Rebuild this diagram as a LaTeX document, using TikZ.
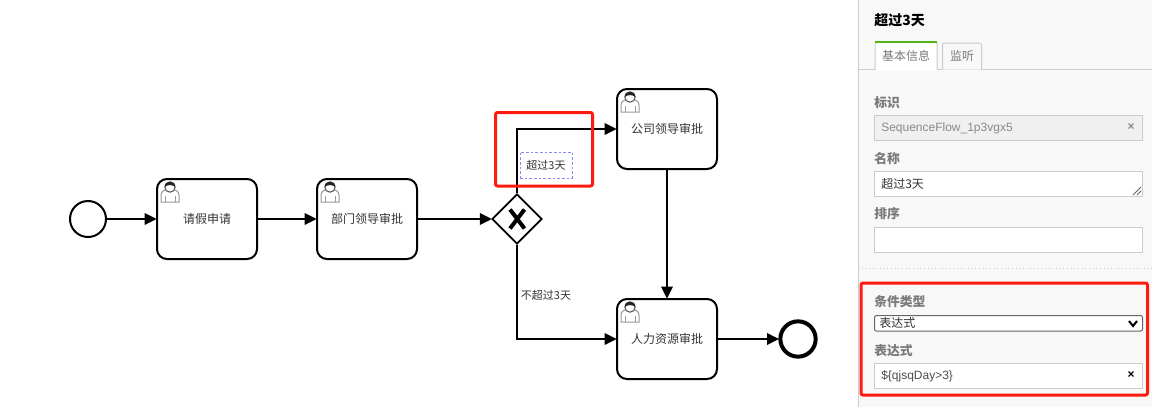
\documentclass[tikz,border=0pt]{standalone}
\usepackage{fontspec}
\setmainfont{Noto Sans CJK SC}
\newfontfamily\latinf{Liberation Sans}
\usetikzlibrary{arrows.meta,shapes.geometric}
\definecolor{panelbg}{HTML}{F8F8F8}
\definecolor{fieldline}{HTML}{CCCCCC}
\definecolor{graytxt}{HTML}{8A8A8A}
\definecolor{labeltxt}{HTML}{7A7A7A}
\definecolor{redmark}{HTML}{FF1A10}
\definecolor{tabgreen}{HTML}{52B415}
\definecolor{lblblue}{HTML}{8888FF}
\tikzset{
  px/.style={line width=#1*0.75pt},
  task/.style={draw=black,px=2,fill=white,rounded corners=7.5pt,minimum width=75pt,minimum height=60pt,inner sep=0pt,font=\fontsize{9}{11}\selectfont,text=black!80},
  flow/.style={draw=black,px=2,shorten >=-0.5pt,-{Triangle[length=9pt,width=8.6pt]}},
  flabel/.style={anchor=west,inner sep=0pt,font=\fontsize{9.6}{11}\selectfont\bfseries,text=labeltxt},
  ftext/.style={anchor=west,inner sep=0pt,font=\fontsize{9}{11}\selectfont},
  redbox/.style={draw=redmark,px=3,rounded corners=1.5pt},
  clearx/.style={inner sep=0pt,font=\latinf\fontsize{9}{11}\selectfont\bfseries},
  usericon/.pic={
    \draw[draw=black!40,px=1,fill=white] (-9,11) -- (-9,4) .. controls (-9,0) and (-5,-1) .. (-3,-2) -- (3,-2) .. controls (5,-1) and (9,0) .. (9,4) -- (9,11) -- cycle;
    \draw[draw=black!40,px=1] (-5,5) -- (-5,11) (5,5) -- (5,11);
    \draw[draw=black!70,px=1,fill=white] (0,-4) circle[radius=5.2];
    \fill[black!85] (-5.2,-4) .. controls (-5.5,-11) and (5.5,-11) .. (5.2,-4) .. controls (3,-6.5) and (-3,-6.5) .. (-5.2,-4) -- cycle;
  }
}
\begin{document}
\begin{tikzpicture}[x=0.75pt,y=-0.75pt]
\useasboundingbox (0,0) rectangle (1152,407);
\fill[white] (0,0) rectangle (1152,407);
% panel
\fill[panelbg] (858,0) rectangle (1152,407);
\draw[fieldline,px=1] (858.5,0) -- (858.5,407);
\node[anchor=west,inner sep=0pt,font=\fontsize{10.5}{12}\selectfont\bfseries] (title) at (874,20) {超过3天};
\draw[fieldline,px=1] (858,69.5) -- (1152,69.5);
\draw[fieldline,px=1,fill=white,rounded corners=1.5pt] (875,70) -- (875,42) -- (937,42) -- (937,70);
\fill[white] (875.5,69) rectangle (936.5,70.5);
\draw[tabgreen,px=2] (875,42) -- (937,42);
\draw[fieldline,px=1,fill=panelbg,rounded corners=1.5pt] (942.5,69.5) -- (942.5,43) -- (981.5,43) -- (981.5,69.5);
\node[font=\fontsize{9}{11}\selectfont,text=labeltxt,inner sep=0pt] (tab1) at (906,56) {基本信息};
\node[font=\fontsize{9}{11}\selectfont,text=labeltxt,inner sep=0pt] (tab2) at (962,56) {监听};
\node[flabel] (l1) at (874,103) {标识};
\draw[fieldline,px=1,fill=black!6] (874.5,115.5) rectangle (1142.5,140);
\node[ftext,text=graytxt,font=\latinf\fontsize{9}{11}\selectfont] (v1) at (881,128) {SequenceFlow\_1p3vgx5};
\node[clearx,text=graytxt] (x1) at (1131,127) {×};
\node[flabel] (l2) at (874,159) {名称};
\draw[fieldline,px=1,fill=white] (874.5,171.5) rectangle (1142.5,196);
\node[ftext,text=black!80] (v2) at (881,184) {超过3天};
\draw[black!60,px=0.8] (1133,195) -- (1141,187) (1137,195) -- (1141,191);
\node[flabel] (l3) at (874,214) {排序};
\draw[fieldline,px=1,fill=white] (874.5,227.5) rectangle (1142.5,252.5);
\draw[fieldline,px=1,dotted] (858,268.5) -- (1152,268.5);
\node[flabel] (l4) at (874,302) {条件类型};
\draw[black!60,px=1,fill=white,rounded corners=1.5pt] (874.5,315.5) rectangle (1142.5,331);
\node[ftext,text=black!80] (v4) at (879,323) {表达式};
\draw[black,px=2] (1129,321) -- (1133,326) -- (1137,321);
\node[flabel] (l5) at (874,351) {表达式};
\draw[fieldline,px=1,fill=white] (874.5,363.5) rectangle (1142.5,388);
\node[ftext,font=\latinf\fontsize{9}{11}\selectfont,text=black!70] (v5) at (881,376) {\$\{qjsqDay>3\}};
\node[clearx] (x5) at (1131,375) {×};
\draw[redbox] (861,283) rectangle (1147.5,395);
% diagram nodes
\node[draw=black,px=2,fill=white,circle,minimum size=27pt,inner sep=0pt] (start) at (88,219) {};
\node[task] (t1) at (207,219) {请假申请};
\node[task] (t2) at (367,219) {部门领导审批};
\node[task] (t3) at (667,129) {公司领导审批};
\node[task] (t4) at (667,339) {人力资源审批};
\node[draw=black,px=1.7,fill=white,diamond,aspect=1,minimum size=37.5pt,inner sep=0pt] (gw) at (517,219) {};
\node[draw=black,px=4,fill=white,circle,minimum size=26.5pt,inner sep=0pt] (end) at (798,339) {};
\draw[black,px=4] (510,209.5) -- (524.5,228.5) (524.5,209.5) -- (510,228.5);
% icons
\pic at (170,191) {usericon};
\pic at (330,191) {usericon};
\pic at (630,101) {usericon};
\pic at (630,311) {usericon};
% flows
\draw[flow] (start) -- (t1);
\draw[flow] (t1) -- (t2);
\draw[flow] (t2) -- (gw);
\draw[flow] (gw.north) |- (t3.west);
\draw[flow] (gw.south) |- (t4.west);
\draw[flow] (t3) -- (t4);
\draw[flow] (t4) -- (end);
% labels
\node[draw=lblblue,px=1,dash pattern=on 2pt off 1.5pt,minimum width=39pt,minimum height=19.5pt,inner sep=0pt,font=\fontsize{8.25}{10}\selectfont,text=black!80] (lab1) at (546,165) {超过3天};
\node[inner sep=0pt,font=\fontsize{8.25}{10}\selectfont,text=black!80] (lab2) at (546,295) {不超过3天};
\draw[redbox] (495.5,112.5) rectangle (592.5,186);
\end{tikzpicture}
\end{document}
